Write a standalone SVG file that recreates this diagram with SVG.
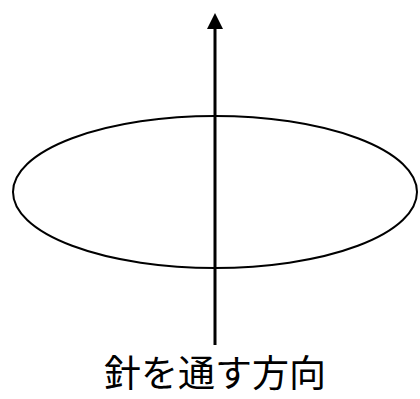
<svg xmlns="http://www.w3.org/2000/svg" width="420" height="399" viewBox="0 0 420 399">
<style>
.shape{fill:none;stroke:#000;stroke-width:2}
.lbl{font-family:"Noto Sans CJK JP","Noto Sans",sans-serif;font-size:37px;fill:#000}
</style>
<rect width="420" height="399" fill="#fff"/>
<g id="ring">
<ellipse class="shape" cx="215" cy="192" rx="202" ry="76"/>
</g>
<g id="connectors">
<line x1="215" y1="345" x2="215" y2="28" stroke="#000" stroke-width="3"/>
<path d="M207,29 L215,13 L223,29 Z" fill="#000"/>
</g>
<g id="label">
<text class="lbl" x="215" y="387" text-anchor="middle">針を通す方向</text>
</g>
</svg>
